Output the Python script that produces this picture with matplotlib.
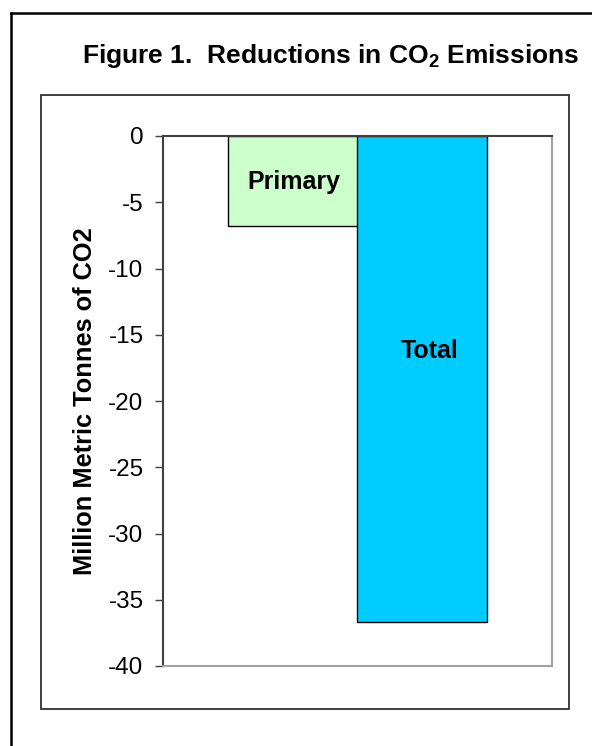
import matplotlib
matplotlib.use("Agg")
import matplotlib.pyplot as plt
from matplotlib.lines import Line2D
from matplotlib.patches import Rectangle

plt.rcParams['font.family'] = ['Liberation Sans', 'DejaVu Sans']
plt.rcParams['mathtext.fontset'] = 'custom'
plt.rcParams['mathtext.rm'] = 'Liberation Sans:bold'
plt.rcParams['mathtext.bf'] = 'Liberation Sans:bold'

# Data
categories = ["Primary", "Total"]
reductions = [-6.8, -36.7]
bar_colors = ["#CCFFCC", "#00CCFF"]
label_values = [-3.5, -16.2]
yticks = [0, -5, -10, -15, -20, -25, -30, -35, -40]

W, H = 592, 746
fig = plt.figure(figsize=(W / 100, H / 100), dpi=100)

def fx(px):
    return px / W

def fy(py):
    return 1 - py / H

# page border (top and left edges)
fig.add_artist(Line2D([fx(11), fx(11)], [fy(13), fy(760)], color="black", lw=1.8,
                      transform=fig.transFigure))
fig.add_artist(Line2D([fx(11), fx(600)], [fy(13), fy(13)], color="black", lw=1.8,
                      transform=fig.transFigure))
# chart area border
fig.add_artist(Rectangle((fx(41), fy(709)), fx(569) - fx(41), fy(95) - fy(709),
                         fill=False, edgecolor="#303030", lw=1.3,
                         transform=fig.transFigure))

fig.text(fx(331), fy(56), r"Figure 1.  Reductions in CO$_{\mathrm{2}}$ Emissions",
         ha="center", va="center", fontsize=19, fontweight="bold")

ax = fig.add_axes([fx(163), fy(666), fx(552) - fx(163), fy(136) - fy(666)])
x = list(range(len(categories)))
ax.bar(x, reductions, width=1.0, color=bar_colors, edgecolor="black", linewidth=1.0,
       zorder=2)
label_shift_pts = [1, 5]
for xi, name, ly, dx in zip(x, categories, label_values, label_shift_pts):
    ax.annotate(name, (xi, ly), xytext=(dx, 0), textcoords="offset points",
                ha="center", va="center", fontsize=18, fontweight="bold", zorder=3)

ax.set_xlim(-1, 2)
ax.set_ylim(-40, 0)
ax.set_yticks(yticks)
ax.set_yticklabels([str(v) for v in yticks], fontsize=17.5)
ax.set_xticks([])
ax.tick_params(axis="y", direction="out", length=6, width=1, pad=8, color="#404040")
ax.set_ylabel("Million Metric Tonnes of CO2", fontsize=18.3, fontweight="bold",
              labelpad=8)

ax.spines["top"].set_color("#404040")
ax.spines["left"].set_color("#404040")
ax.spines["right"].set_color("#A0A0A0")
ax.spines["bottom"].set_color("#A0A0A0")
for s in ax.spines.values():
    s.set_linewidth(1.5)

fig.savefig("out.png", dpi=100)
